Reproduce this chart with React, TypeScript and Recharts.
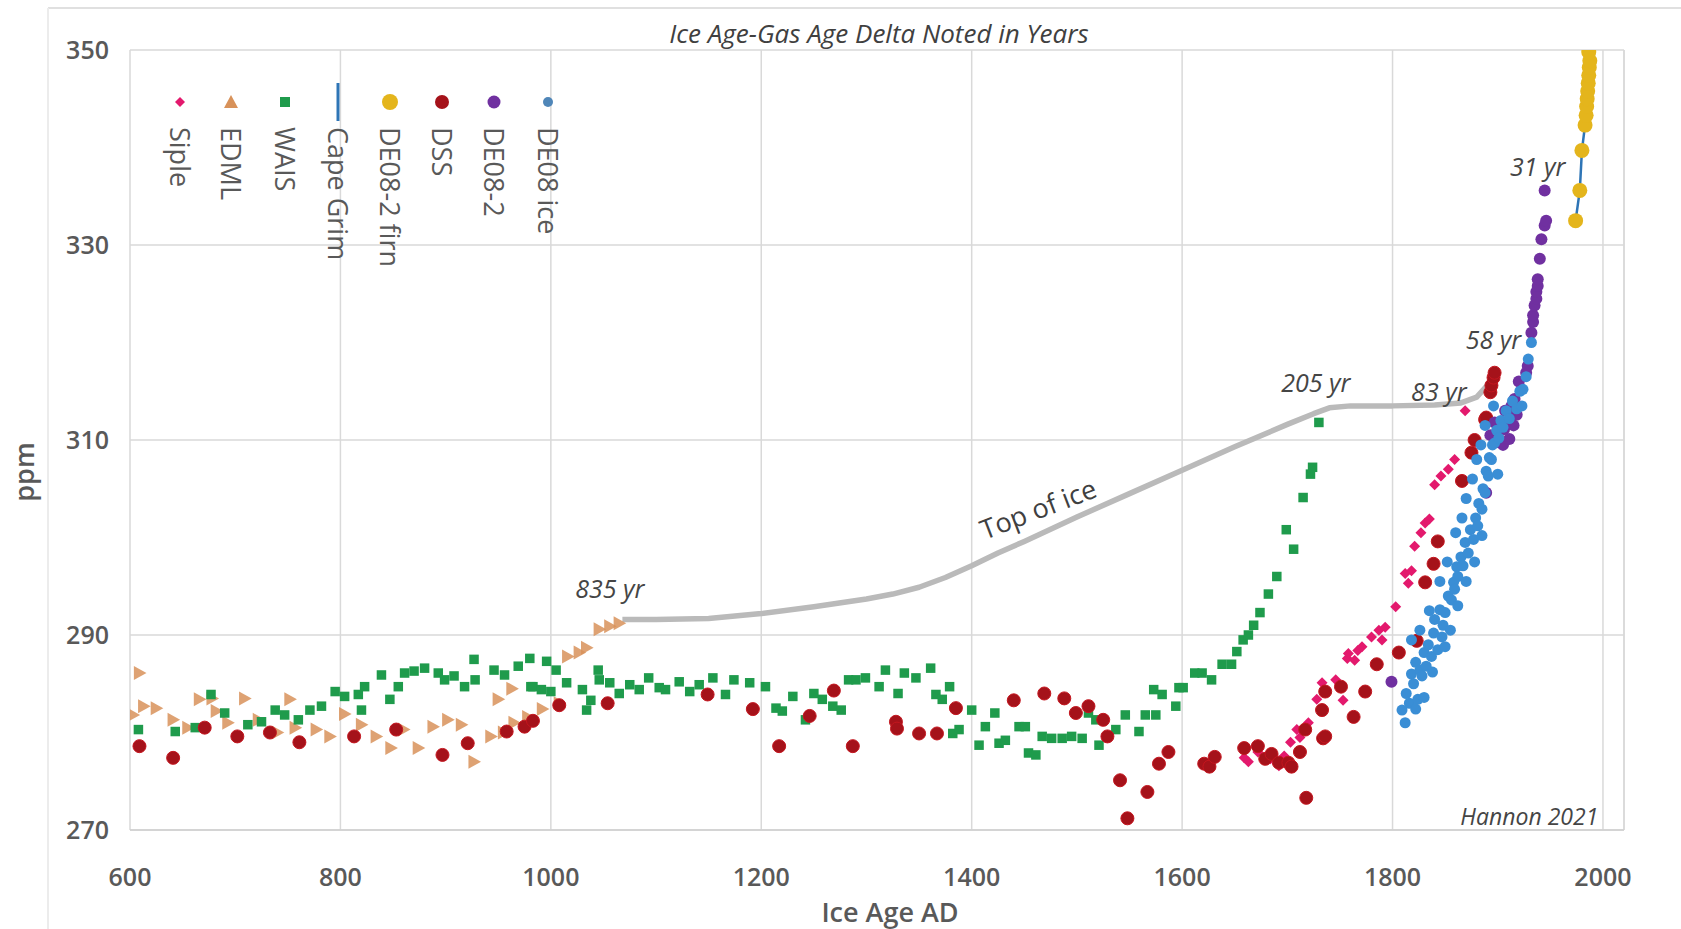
import React from 'react';
import {
  ScatterChart,
  Scatter,
  XAxis,
  YAxis,
  CartesianGrid,
  ReferenceLine,
  ReferenceDot,
} from 'recharts';

type Pt = [number, number];

// axis ticks
const xTicks = [600, 800, 1000, 1200, 1400, 1600, 1800, 2000];
const yTicks = [270, 290, 310, 330, 350];

// [ice age AD, ppm]
const siple: Pt[] = [
  [1659, 277.4], [1663, 277.0], [1672, 278.0], [1684, 277.3], [1692, 276.6], [1697, 277.6],
  [1703, 279.0], [1709, 280.3], [1712, 279.5], [1720, 281.0], [1728, 283.4], [1733, 285.1],
  [1746, 285.4], [1753, 283.3], [1757, 287.6], [1758, 288.1], [1764, 287.4], [1767, 288.4],
  [1771, 288.8], [1780, 289.8], [1787, 290.5], [1790, 289.5], [1793, 290.8], [1803, 292.9],
  [1812, 296.3], [1815, 295.3], [1818, 296.6], [1821, 299.1], [1827, 300.5], [1831, 301.5],
  [1835, 301.9], [1840, 305.4], [1846, 306.3], [1853, 307.0], [1859, 308.0], [1869, 313.0],
];

const edml: Pt[] = [
  [603, 281.8], [609, 286.1], [613, 282.7], [625, 282.5], [641, 281.3], [655, 280.5],
  [666, 283.4], [678, 283.5], [682, 282.2], [693, 281.0], [709, 283.5], [722, 281.3],
  [740, 280.0], [752, 283.4], [757, 280.5], [777, 280.3], [790, 279.6], [804, 281.9],
  [820, 280.8], [834, 279.6], [848, 278.4], [860, 280.3], [874, 278.4], [888, 280.6],
  [902, 281.3], [915, 280.8], [927, 277.0], [943, 279.6], [950, 283.4], [955, 280.0],
  [963, 284.5], [965, 281.0], [978, 281.6], [992, 282.4], [1008, 283.0], [1016, 287.8],
  [1027, 288.2], [1034, 288.7], [1046, 290.6], [1056, 290.9], [1065, 291.2],
];

const wais: Pt[] = [
  [608, 280.3], [643, 280.1], [662, 280.5], [671, 280.5], [677, 283.9], [690, 282.0],
  [712, 280.8], [725, 281.1], [738, 282.3], [747, 281.8], [760, 281.3], [771, 282.3],
  [782, 282.7], [795, 284.2], [804, 283.7], [817, 283.9], [820, 282.3], [823, 284.7],
  [839, 285.9], [847, 283.4], [855, 284.7], [861, 286.1], [870, 286.3], [880, 286.6],
  [893, 286.1], [899, 285.4], [908, 285.8], [918, 284.7], [927, 287.5], [928, 285.4],
  [946, 286.4], [956, 285.9], [969, 286.8], [980, 287.6], [981, 284.7], [983, 284.7],
  [991, 284.4], [996, 287.3], [1000, 284.2], [1005, 286.4], [1015, 285.1], [1030, 284.4],
  [1034, 282.3], [1038, 283.3], [1045, 286.4], [1046, 285.4], [1056, 285.1], [1065, 284.0],
  [1075, 284.9], [1084, 284.4], [1093, 285.6], [1103, 284.6], [1109, 284.4], [1122, 285.2],
  [1132, 284.2], [1141, 284.9], [1154, 285.6], [1166, 283.9], [1174, 285.4], [1189, 285.1],
  [1204, 284.7], [1214, 282.5], [1220, 282.2], [1230, 283.7], [1242, 281.3], [1250, 284.0],
  [1258, 283.4], [1268, 282.7], [1276, 282.3], [1283, 285.4], [1290, 285.4], [1299, 285.6],
  [1312, 284.7], [1318, 286.4], [1330, 284.0], [1336, 286.1], [1347, 285.6], [1361, 286.6],
  [1366, 283.9], [1372, 283.4], [1379, 284.7], [1382, 279.9], [1388, 280.3], [1400, 282.3],
  [1407, 278.7], [1413, 280.6], [1422, 282.0], [1426, 278.9], [1432, 279.2], [1445, 280.6],
  [1451, 280.6], [1454, 277.9], [1461, 277.7], [1467, 279.6], [1476, 279.4], [1486, 279.4],
  [1495, 279.6], [1505, 279.4], [1511, 282.0], [1518, 281.3], [1521, 278.7], [1537, 280.3],
  [1546, 281.8], [1559, 280.1], [1565, 281.8], [1573, 284.4], [1575, 281.8], [1581, 283.9],
  [1594, 282.7], [1597, 284.6], [1601, 284.6], [1612, 286.1], [1619, 286.1], [1628, 285.4],
  [1638, 287.0], [1647, 287.0], [1652, 288.3], [1658, 289.5], [1663, 290.0], [1668, 291.0],
  [1674, 292.3], [1682, 294.2], [1690, 296.0], [1699, 300.8], [1706, 298.8], [1715, 304.1],
  [1722, 306.5], [1724, 307.2], [1730, 311.8],
];

const capeGrim: Pt[] = [
  [1974, 332.5], [1978, 335.6], [1980, 339.7], [1983, 342.3], [1985, 345.0], [1987, 348.5],
];

const de082Firn: Pt[] = [
  [1974, 332.5], [1978, 335.6], [1980, 339.7], [1983, 342.3], [1984, 343.3], [1984.5, 344.2],
  [1985, 345.0], [1985.5, 345.8], [1986, 346.6], [1986.5, 347.4], [1987, 348.2], [1987.5, 348.9],
  [1986.5, 349.8],
];

const dss: Pt[] = [
  [609, 278.6], [641, 277.4], [671, 280.5], [702, 279.6], [733, 280.0], [761, 279.0],
  [813, 279.6], [853, 280.3], [897, 277.7], [921, 278.9], [958, 280.1], [975, 280.6],
  [983, 281.2], [1008, 282.8], [1054, 283.0], [1149, 283.9], [1192, 282.4], [1217, 278.6],
  [1246, 281.7], [1269, 284.3], [1287, 278.6], [1328, 281.1], [1329, 280.4], [1350, 279.9],
  [1367, 279.9], [1385, 282.5], [1440, 283.3], [1469, 284.0], [1488, 283.5], [1499, 282.0],
  [1511, 282.7], [1525, 281.3], [1529, 279.6], [1541, 275.1], [1548, 271.2], [1567, 273.9],
  [1578, 276.8], [1587, 278.0], [1621, 276.8], [1626, 276.5], [1631, 277.5], [1659, 278.4],
  [1672, 278.6], [1679, 277.3], [1685, 277.8], [1692, 276.9], [1701, 276.9], [1704, 276.5],
  [1712, 278.0], [1717, 280.3], [1718, 273.3], [1733, 282.3], [1734, 279.4], [1736, 284.2],
  [1736, 279.6], [1751, 284.7], [1763, 281.6], [1774, 284.2], [1785, 287.0], [1806, 288.2],
  [1823, 289.4], [1831, 295.4], [1839, 297.3], [1843, 299.6], [1866, 305.8], [1875, 308.7],
  [1878, 310.0], [1888, 312.1], [1889, 312.3], [1893, 314.9], [1894, 315.6], [1896, 316.4],
  [1897, 316.9],
];

const de082: Pt[] = [
  [1799, 285.2], [1889, 304.6], [1893, 310.5], [1897, 311.8], [1900, 309.8], [1903, 311.0],
  [1905, 309.5], [1906, 311.1], [1907, 313.0], [1910, 311.8], [1911, 310.1], [1912, 312.8],
  [1913, 313.5], [1915, 311.5], [1916, 314.2], [1918, 312.6], [1920, 316.0], [1927, 316.9],
  [1928.5, 317.6], [1932, 321.0], [1933.6, 322.1], [1933.6, 322.8], [1935, 323.8],
  [1936.7, 324.5], [1936.7, 325.2], [1938, 325.8], [1938, 326.5], [1940, 328.6],
  [1941.5, 330.6], [1944.6, 332.0], [1946, 332.5], [1944.6, 335.6],
];

const de08Ice: Pt[] = [
  [1809, 282.3], [1812, 281.0], [1813, 284.0], [1816, 283.0], [1818, 286.0], [1818, 289.5],
  [1820, 285.0], [1822, 287.2], [1822, 282.4], [1824, 283.4], [1826, 286.4], [1826, 290.5],
  [1828, 285.8], [1830, 288.2], [1830, 283.6], [1832, 286.8], [1834, 289.0], [1835, 292.5],
  [1837, 287.8], [1838, 286.2], [1839, 290.2], [1840, 291.6], [1843, 288.5], [1845, 292.6],
  [1845, 295.5], [1847, 289.8], [1848, 291.0], [1850, 288.8], [1850, 292.3], [1852, 297.5],
  [1853, 294.0], [1855, 290.5], [1856, 293.6], [1858, 295.4], [1859, 294.7], [1860, 300.5],
  [1861, 297.0], [1862, 296.0], [1862, 293.0], [1865, 298.0], [1866, 302.0], [1867, 297.1],
  [1869, 299.5], [1870, 304.0], [1870, 295.5], [1872, 298.4], [1874, 300.8], [1876, 306.0],
  [1877, 299.8], [1878, 297.5], [1879, 302.0], [1880, 308.0], [1881, 301.2], [1882, 303.5],
  [1884, 309.5], [1885, 302.9], [1885, 300.2], [1886, 305.0], [1888, 304.6], [1888, 311.5],
  [1889, 306.8], [1891, 306.3], [1892, 308.2], [1894, 308.0], [1895, 309.5], [1896, 313.5],
  [1897, 309.7], [1899, 311.0], [1900, 306.5], [1901, 310.2], [1903, 312.0], [1905, 311.3],
  [1908, 313.0], [1911, 312.2], [1914, 314.0], [1918, 313.2], [1921, 315.0], [1923, 313.5],
  [1924, 315.2], [1927, 316.5], [1929, 318.3], [1932, 320.0],
];

const topOfIce: Pt[] = [
  [1068, 291.6], [1100, 291.6], [1150, 291.7], [1200, 292.2], [1250, 292.9], [1300, 293.7],
  [1325, 294.2], [1350, 294.9], [1375, 295.9], [1400, 297.1], [1425, 298.4], [1450, 299.6],
  [1500, 302.1], [1550, 304.5], [1600, 306.9], [1650, 309.3], [1700, 311.6], [1725, 312.7],
  [1740, 313.3], [1760, 313.5], [1800, 313.5], [1840, 313.6], [1865, 313.8], [1880, 314.4],
  [1895, 316.2],
];

// annotations (text, year, ppm)
const noteText = ['835 yr', '205 yr', '83 yr', '58 yr', '31 yr'];
const noteYear = [1056, 1727, 1844, 1896, 1938];
const notePpm = [294.8, 315.9, 315.0, 320.4, 338.1];

const FONT = '"Open Sans", "DejaVu Sans", sans-serif';
const toXY = (pts: Pt[]) => pts.map(([x, y]) => ({ x, y }));

const circle = (r: number, fill: string, stroke = 'none') => (p: any) => (
  <circle cx={p.cx} cy={p.cy} r={r} fill={fill} stroke={stroke} strokeWidth={1} />
);
const square = (s: number, fill: string) => (p: any) => (
  <rect x={p.cx - s / 2} y={p.cy - s / 2} width={s} height={s} fill={fill} />
);
const diamond = (s: number, fill: string) => (p: any) => (
  <polygon points={`${p.cx},${p.cy - s} ${p.cx + s},${p.cy} ${p.cx},${p.cy + s} ${p.cx - s},${p.cy}`} fill={fill} />
);
const triRight = (s: number, fill: string) => (p: any) => (
  <polygon
    points={`${p.cx - s * 0.8},${p.cy - s} ${p.cx + s},${p.cy} ${p.cx - s * 0.8},${p.cy + s}`}
    fill={fill}
    fillOpacity={0.85}
  />
);
const noShape = () => <g />;

const C = {
  siple: '#e3196d',
  edml: '#d8925a',
  wais: '#1f9b4c',
  capeGrim: '#2e75b6',
  firn: '#e4b51c',
  dss: '#a5121a',
  de082: '#7030a0',
  de08: '#3a8ed5',
};

const legendItems = [
  { name: 'Siple', color: C.siple, kind: 'diamond' },
  { name: 'EDML', color: C.edml, kind: 'triangle' },
  { name: 'WAIS', color: C.wais, kind: 'square' },
  { name: 'Cape Grim', color: C.capeGrim, kind: 'line' },
  { name: 'DE08-2 firn', color: C.firn, kind: 'big' },
  { name: 'DSS', color: C.dss, kind: 'mid' },
  { name: 'DE08-2', color: C.de082, kind: 'mid2' },
  { name: 'DE08 ice', color: '#4f86b8', kind: 'small' },
];

const legendMarker = (kind: string, color: string, cx: number) => {
  const cy = 102;
  switch (kind) {
    case 'diamond':
      return <polygon points={`${cx},${cy - 5} ${cx + 5},${cy} ${cx},${cy + 5} ${cx - 5},${cy}`} fill={color} />;
    case 'triangle':
      return <polygon points={`${cx - 7},${cy + 6} ${cx},${cy - 7} ${cx + 7},${cy + 6}`} fill={color} />;
    case 'square':
      return <rect x={cx - 5} y={cy - 5} width={10} height={10} fill={color} />;
    case 'line':
      return <line x1={cx} y1={83} x2={cx} y2={121} stroke={color} strokeWidth={3} />;
    case 'big':
      return <circle cx={cx} cy={cy} r={8} fill={color} />;
    case 'mid':
      return <circle cx={cx} cy={cy} r={7} fill={color} />;
    case 'mid2':
      return <circle cx={cx} cy={cy} r={6.5} fill={color} />;
    default:
      return <circle cx={cx} cy={cy} r={5} fill={color} />;
  }
};

const legendX = [180, 231, 285, 338, 390, 442, 494, 548];

const tickStyle = { fill: '#595959', fontSize: 25, fontWeight: 600, fontFamily: FONT };

export default function App() {
  return (
    <div style={{ position: 'absolute', left: 0, top: 0, width: 1681, height: 929, overflow: 'hidden', background: '#fff' }}>
      <ScatterChart width={1681} height={929} margin={{ top: 50, right: 57, bottom: 7, left: 60 }}>
        <CartesianGrid stroke="#d9d9d9" strokeWidth={1.5} />
        <XAxis
          type="number"
          dataKey="x"
          domain={[600, 2020]}
          ticks={xTicks}
          allowDataOverflow
          tickLine={false}
          tickSize={0}
          tickMargin={38}
          height={92}
          axisLine={{ stroke: '#cfcfcf', strokeWidth: 1.5 }}
          tick={tickStyle}
        />
        <YAxis
          type="number"
          dataKey="y"
          domain={[270, 350]}
          ticks={yTicks}
          allowDataOverflow
          tickLine={false}
          tickSize={0}
          tickMargin={21}
          width={70}
          axisLine={false}
          tick={tickStyle}
        />
        <ReferenceLine x={2020} stroke="#d9d9d9" strokeWidth={1.5} />
        <Scatter
          data={toXY(topOfIce)}
          line={{ stroke: '#bababa', strokeWidth: 5.5, strokeLinejoin: 'round' }}
          lineType="joint"
          shape={noShape}
          isAnimationActive={false}
        />
        <Scatter data={toXY(siple)} shape={diamond(5.5, C.siple)} isAnimationActive={false} />
        <Scatter data={toXY(edml)} shape={triRight(7, C.edml)} isAnimationActive={false} />
        <Scatter data={toXY(wais)} shape={square(9.5, C.wais)} isAnimationActive={false} />
        <Scatter
          data={toXY(capeGrim)}
          line={{ stroke: C.capeGrim, strokeWidth: 2.5 }}
          lineType="joint"
          shape={noShape}
          isAnimationActive={false}
        />
        <Scatter data={toXY(de082Firn)} shape={circle(7.5, C.firn)} isAnimationActive={false} />
        <Scatter data={toXY(dss)} shape={circle(6.5, C.dss, '#c4161f')} isAnimationActive={false} />
        <Scatter data={toXY(de082)} shape={circle(6, C.de082)} isAnimationActive={false} />
        <Scatter data={toXY(de08Ice)} shape={circle(5.5, C.de08)} isAnimationActive={false} />
        {noteText.map((t, i) => (
          <ReferenceDot
            key={t}
            x={noteYear[i]}
            y={notePpm[i]}
            r={0}
            shape={(p: any) => (
              <text
                x={p.cx}
                y={p.cy}
                textAnchor="middle"
                dominantBaseline="central"
                fontStyle="italic"
                fontSize={25}
                fontFamily={FONT}
                fill="#454545"
              >
                {t}
              </text>
            )}
          />
        ))}
        <ReferenceDot
          x={1463}
          y={303.0}
          r={0}
          shape={(p: any) => (
            <text
              x={p.cx}
              y={p.cy}
              textAnchor="middle"
              dominantBaseline="central"
              fontSize={27}
              fontFamily={FONT}
              fill="#404040"
              transform={`rotate(-21 ${p.cx} ${p.cy})`}
            >
              Top of ice
            </text>
          )}
        />
        <ReferenceDot
          x={1930}
          y={271.4}
          r={0}
          shape={(p: any) => (
            <text
              x={p.cx}
              y={p.cy}
              textAnchor="middle"
              dominantBaseline="central"
              fontStyle="italic"
              fontSize={23}
              fontFamily={FONT}
              fill="#454545"
            >
              Hannon 2021
            </text>
          )}
        />
      </ScatterChart>
      <svg
        width={1681}
        height={929}
        style={{ position: 'absolute', left: 0, top: 0, pointerEvents: 'none' }}
        fontFamily={FONT}
      >
        <line x1={48} y1={8} x2={1681} y2={8} stroke="#e0e0e0" strokeWidth={2} />
        <line x1={48} y1={8} x2={48} y2={929} stroke="#ececec" strokeWidth={2} />
        <text x={879} y={33} textAnchor="middle" dominantBaseline="central" fontStyle="italic" fontSize={26} fill="#404040">
          Ice Age-Gas Age Delta Noted in Years
        </text>
        <text
          x={23}
          y={472}
          textAnchor="middle"
          dominantBaseline="central"
          fontSize={27}
          fontWeight={600}
          fill="#595959"
          transform="rotate(-90 23 472)"
        >
          ppm
        </text>
        <text x={890} y={911} textAnchor="middle" dominantBaseline="central" fontSize={27} fontWeight={600} fill="#595959">
          Ice Age AD
        </text>
        {legendItems.map((it, i) => (
          <g key={it.name}>
            {legendMarker(it.kind, it.color, legendX[i])}
            <text
              x={legendX[i]}
              y={127}
              dominantBaseline="central"
              fontSize={27}
              fill="#595959"
              transform={`rotate(90 ${legendX[i]} 127)`}
            >
              {it.name}
            </text>
          </g>
        ))}
      </svg>
    </div>
  );
}
